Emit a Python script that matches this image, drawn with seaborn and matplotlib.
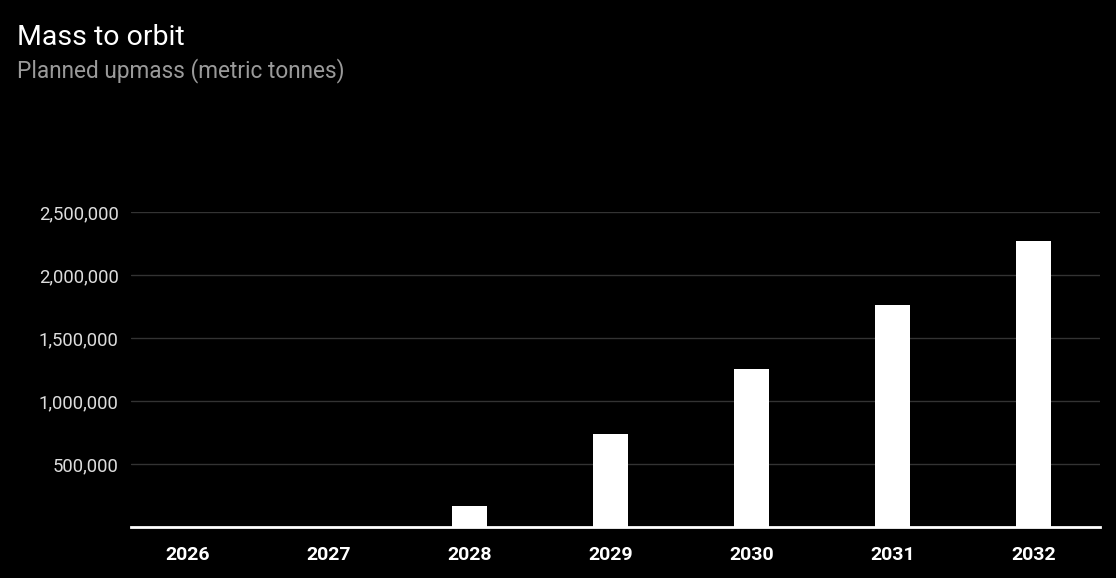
import matplotlib
matplotlib.use("Agg")
import matplotlib.pyplot as plt
import matplotlib.ticker as mticker
import pandas as pd
import seaborn as sns

# Planned upmass per year (metric tonnes)
years = ["2026", "2027", "2028", "2029", "2030", "2031", "2032"]
upmass = [0, 0, 169000, 740000, 1254000, 1759000, 2267000]
yticks = [500000, 1000000, 1500000, 2000000, 2500000]

df = pd.DataFrame({"Year": years, "Upmass": upmass})

sns.set_style("dark")
plt.rcParams['font.family'] = ['Roboto', 'DejaVu Sans']

fig = plt.figure(figsize=(11.16, 5.78), dpi=100, facecolor="black")
W, H = 1116, 578
left, right, bottom, top = 131, 1100, 527, 212
ax = fig.add_axes([left / W, (H - bottom) / H, (right - left) / W, (bottom - top) / H])
ax.set_facecolor("black")

sns.barplot(data=df, x="Year", y="Upmass", color="white", width=0.25,
            saturation=1, edgecolor="white", linewidth=0, ax=ax, zorder=3)

ax.set_xlim(-0.40, 6.47)
ax.set_ylim(0, 2500000)
ax.set_yticks(yticks)
ax.yaxis.set_major_formatter(mticker.FuncFormatter(lambda v, p: f"{int(v):,}"))
ax.grid(axis="y", color="#333333", linewidth=1, zorder=0)
ax.grid(axis="x", visible=False)

for s in ["top", "right", "left"]:
    ax.spines[s].set_visible(False)
ax.spines["bottom"].set_color("white")
ax.spines["bottom"].set_linewidth(2)
ax.spines["bottom"].set_zorder(4)

ax.tick_params(axis="y", length=0, pad=9, labelcolor="#dddddd", labelsize=13.3)
ax.tick_params(axis="x", length=4, width=1, color="#bbbbbb", pad=10,
               labelcolor="white", labelsize=14)
for lbl in ax.get_xticklabels():
    lbl.set_fontweight("bold")

ax.set_xlabel("")
ax.set_ylabel("")

fig.text(17 / W, 1 - 45 / H, "Mass to orbit", color="white", fontsize=20.5)
fig.text(17 / W, 1 - 77 / H, "Planned upmass (metric tonnes)", color="#9a9a9a", fontsize=16.3)

fig.savefig("out.png", dpi=100, facecolor="black")
